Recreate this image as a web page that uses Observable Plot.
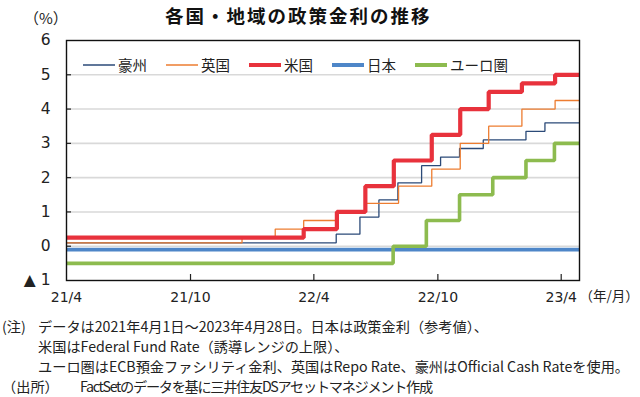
<!DOCTYPE html>
<html><head><meta charset="utf-8">
<script src="https://cdn.jsdelivr.net/npm/d3@7"></script>
<script src="https://cdn.jsdelivr.net/npm/@observablehq/plot@0.6"></script>
<style>
body{margin:0;background:#fff;width:640px;height:397px;overflow:hidden;font-family:"Noto Sans CJK JP",sans-serif;color:#222}
#title{position:relative;height:30px}
#title .t{position:absolute;left:165px;top:2px;font-size:18.5px;font-weight:bold;letter-spacing:2px;line-height:26px;color:#111}
#title .u{position:absolute;left:24px;top:6px;font-size:15px;line-height:24px}
#chart{position:relative;height:280px}
#chart svg{display:block}
#legend{position:absolute;left:83px;top:24px;display:flex;gap:19px;font-size:14.5px;line-height:22px}
.item{display:flex;align-items:center}
.sw{display:block;width:32px;margin-right:3px}
#notes{font-size:14.2px;line-height:20px;padding-top:6px}
.row{position:relative;padding-left:38px;white-space:nowrap}
.row .lab{position:absolute;left:2px}
.row.src{padding-left:80px;letter-spacing:-1.3px}
.row.src .lab{letter-spacing:0}
</style></head>
<body>
<div id="title"><span class="u">（%）</span><span class="t">各国・地域の政策金利の推移</span></div>
<div id="chart"><div id="legend"></div></div>
<div id="notes">
<div class="row"><span class="lab">(注)</span>データは2021年4月1日～2023年4月28日。日本は政策金利（参考値）、</div>
<div class="row">米国はFederal Fund Rate（誘導レンジの上限）、</div>
<div class="row">ユーロ圏はECB預金ファシリティ金利、英国はRepo Rate、豪州はOfficial Cash Rateを使用。</div>
<div class="row src"><span class="lab">（出所）</span>FactSetのデータを基に三井住友DSアセットマネジメント作成</div>
</div>
<script>
// ---- data ----
const seriesNames = ["豪州","英国","米国","日本","ユーロ圏"];
const seriesColors = ["#2b4a78","#ED7D31","#E8323C","#4E86C8","#8DBB4F"];
const seriesWidths = [1.3,1.3,4.2,3.6,3.6];

const ausDates = ["2021-04-01","2022-05-04","2022-06-08","2022-07-06","2022-08-03","2022-09-07","2022-10-05","2022-11-02","2022-12-07","2023-02-08","2023-03-08","2023-04-28"];
const ausRates = [0.1,0.35,0.85,1.35,1.85,2.35,2.6,2.85,3.1,3.35,3.6,3.6];

const ukDates = ["2021-04-01","2021-12-16","2022-02-03","2022-03-17","2022-05-05","2022-06-16","2022-08-04","2022-09-22","2022-11-03","2022-12-15","2023-02-02","2023-03-23","2023-04-28"];
const ukRates = [0.1,0.25,0.5,0.75,1.0,1.25,1.75,2.25,3.0,3.5,4.0,4.25,4.25];

const usDates = ["2021-04-01","2022-03-17","2022-05-05","2022-06-16","2022-07-28","2022-09-22","2022-11-03","2022-12-15","2023-02-02","2023-03-23","2023-04-28"];
const usRates = [0.25,0.5,1.0,1.75,2.5,3.25,4.0,4.5,4.75,5.0,5.0];

const jpDates = ["2021-04-01","2023-04-28"];
const jpRates = [-0.1,-0.1];

const euDates = ["2021-04-01","2022-07-27","2022-09-14","2022-11-02","2022-12-21","2023-02-08","2023-03-22","2023-04-28"];
const euRates = [-0.5,0,0.75,1.5,2.0,2.5,3.0,3.0];

const xDomain = ["2021-04-01","2023-04-28"];
const xTickDates = ["2021-04-01","2021-10-01","2022-04-01","2022-10-01","2023-04-01"];
const xTickLabels = ["21/4","21/10","22/4","22/10","23/4"];
const yTicks = [-1,0,1,2,3,4,5,6];
const yGrid = [0,1,2,3,4,5];
const xUnit = "（年/月）";

// ---- build ----
const P = s => new Date(s + "T00:00:00Z");
const raw = [[ausDates,ausRates],[ukDates,ukRates],[usDates,usRates],[jpDates,jpRates],[euDates,euRates]];
const tables = raw.map(([ds,vs],k) => ds.map((d,i) => ({date:P(d), value:vs[i], series:seriesNames[k]})));
const tickDates = xTickDates.map(P);

const W = 640, H = 280, mL = 66, mR = 61, mT = 10, mB = 30;
const plotW = W - mL - mR, plotH = H - mT - mB;

const chart = Plot.plot({
  width: W, height: H, marginLeft: mL, marginRight: mR, marginTop: mT, marginBottom: mB,
  x: {type: "utc", domain: xDomain.map(P), label: null},
  y: {domain: [-1, 6], label: null},
  style: {fontFamily: '"DejaVu Sans","Noto Sans CJK JP",sans-serif', color: "#222", background: "#fff", overflow: "visible"},
  marks: [
    Plot.ruleY(yGrid, {stroke: "#d9d9d9", strokeWidth: 1.6}),
    ...tables.map((t,k) => Plot.line(t, {x: "date", y: "value", curve: "step-after",
        stroke: seriesColors[k], strokeWidth: seriesWidths[k], strokeLinejoin: "miter", strokeLinecap: "butt"})),
    Plot.ruleY(yTicks.slice(1,-1), {insetRight: plotW - 5, stroke: "#222", strokeWidth: 1.2}),
    Plot.ruleX(tickDates.slice(1), {insetTop: plotH - 6, stroke: "#222", strokeWidth: 1.2}),
    Plot.frame({stroke: "#111", strokeWidth: 1.4}),
    Plot.axisY({ticks: yTicks, tickSize: 0, tickPadding: 16, fontSize: 15.5, label: null,
      tickFormat: d => d < 0 ? "▲ " + (-d) : String(d)}),
    Plot.axisX({ticks: tickDates, tickSize: 0, tickPadding: 12, fontSize: 14, label: null,
      tickFormat: d => xTickLabels[tickDates.findIndex(t => +t === +d)]}),
    Plot.text([xUnit], {frameAnchor: "bottom-right", textAnchor: "start", dx: 0, dy: 20,
      fontSize: 13.5, fontFamily: '"Noto Sans CJK JP",sans-serif', fill: "#222"})
  ]
});
document.getElementById("chart").prepend(chart);

// legend
const lg = document.getElementById("legend");
seriesNames.forEach((n,k) => {
  const it = document.createElement("div");
  it.className = "item";
  it.innerHTML = `<svg class="sw" width="32" height="8"><line x1="0" x2="32" y1="4" y2="4" stroke="${seriesColors[k]}" stroke-width="${seriesWidths[k] > 2 ? 4 : 1.5}"/></svg><span>${n}</span>`;
  lg.appendChild(it);
});
</script>
</body></html>
